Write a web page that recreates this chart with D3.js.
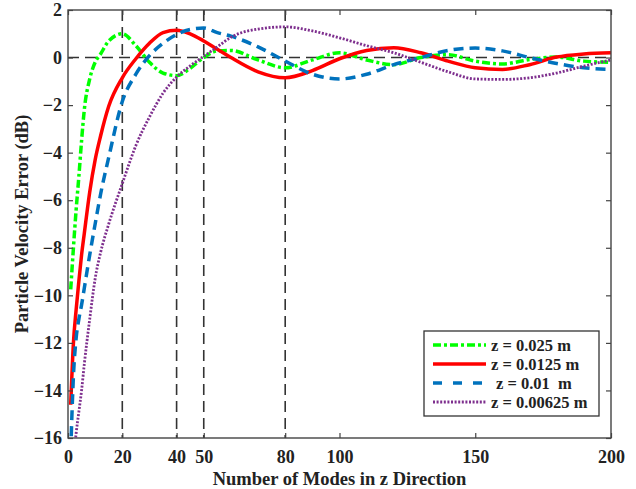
<!DOCTYPE html>
<html>
<head>
<meta charset="utf-8">
<script src="https://cdn.jsdelivr.net/npm/d3@7"></script>
<style>
  body { margin: 0; background: #fff; }
  text { font-family: "Liberation Serif", "Times New Roman", serif; font-weight: bold; fill: #222; }
</style>
</head>
<body>
<div class="canva"></div>
<script>
const modes = [1, 2, 3, 4, 5, 6, 8, 10, 12, 15, 20, 25, 30, 35, 40, 45, 50, 55, 60,
               70, 80, 90, 100, 110, 120, 130, 140, 150, 160, 170, 180, 190, 200];

const errZ025 = [-9.75, -8.0, -6.4, -5.0, -3.5, -2.2, -0.9, -0.2, 0.15, 0.7, 1.0, 0.5, -0.2, -0.65, -0.76, -0.45, 0.0, 0.28, 0.3,
                 -0.1, -0.43, -0.1, 0.2, -0.1, -0.3, 0.0, 0.12, -0.15, -0.27, -0.08, 0.02, -0.15, -0.2];
const errZ0125 = [-14.6, -12.0, -10.6, -9.4, -8.3, -7.4, -5.65, -4.3, -3.3, -2.05, -0.85, -0.05, 0.6, 1.05, 1.15, 1.0, 0.7, 0.35, 0.0,
                  -0.6, -0.85, -0.55, -0.05, 0.3, 0.41, 0.2, -0.15, -0.43, -0.5, -0.3, 0.02, 0.15, 0.2];
const errZ01 = [-16.6, -13.4, -11.8, -11.0, -10.4, -9.7, -8.3, -7.0, -5.75, -4.2, -1.85, -0.7, 0.08, 0.6, 0.97, 1.18, 1.24, 1.05, 0.9,
                0.45, -0.15, -0.7, -0.9, -0.7, -0.3, 0.0, 0.3, 0.4, 0.28, 0.0, -0.25, -0.43, -0.5];
const errZ00625 = [-19.0, -17.0, -15.8, -14.9, -14.0, -12.9, -11.0, -9.3, -8.2, -7.0, -5.3, -3.7, -2.5, -1.5, -0.82, -0.35, 0.05, 0.45, 0.85,
                   1.2, 1.29, 1.12, 0.83, 0.5, 0.2, -0.2, -0.6, -0.9, -0.92, -0.85, -0.65, -0.36, -0.1];

const seriesNames = ["z = 0.025 m", "z = 0.0125 m", "z = 0.01  m", "z = 0.00625 m"];
const xTicks = [0, 20, 40, 50, 80, 100, 150, 200];
const yTicks = [2, 0, -2, -4, -6, -8, -10, -12, -14, -16];
const markers = [20, 40, 50, 80];

const width = 636, height = 489;
const margin = {top: 10, right: 25, bottom: 51, left: 68};

const svg = d3.select(".canva").append("svg")
    .attr("width", width)
    .attr("height", height);

const x = d3.scaleLinear().domain([0, 200]).range([margin.left, width - margin.right]);
const y = d3.scaleLinear().domain([-16, 2]).range([height - margin.bottom, margin.top]);

svg.append("clipPath").attr("id", "plot")
  .append("rect")
    .attr("x", x(0)).attr("y", y(2))
    .attr("width", x(200) - x(0)).attr("height", y(-16) - y(2));

// reference dashed lines
const guides = svg.append("g").attr("stroke", "#333").attr("stroke-width", 1.6)
    .attr("stroke-dasharray", "11,6");
guides.selectAll("line.v").data(markers).enter().append("line")
    .attr("class", "v")
    .attr("x1", d => x(d)).attr("x2", d => x(d))
    .attr("y1", y(2)).attr("y2", y(-16));
guides.append("line")
    .attr("x1", x(0)).attr("x2", x(200))
    .attr("y1", y(0)).attr("y2", y(0));

const series = [
  {name: seriesNames[0], values: errZ025, color: "#00ff00", width: 3.5, dash: "8,3,3,3", legendDash: "8,3,3,3"},
  {name: seriesNames[1], values: errZ0125, color: "#ff0000", width: 3.5, dash: null, legendDash: null},
  {name: seriesNames[2], values: errZ01, color: "#0072bd", width: 3.5, dash: "10,6", legendDash: "9,11"},
  {name: seriesNames[3], values: errZ00625, color: "#7e2f8e", width: 2.8, dash: "2,1.6", legendDash: "2,1.6"}
];

const line = d3.line()
    .x((d, i) => x(modes[i]))
    .y(d => y(d))
    .curve(d3.curveMonotoneX);

svg.append("g").attr("clip-path", "url(#plot)")
  .selectAll("path")
  .data(series)
  .enter().append("path")
    .attr("fill", "none")
    .attr("stroke", d => d.color)
    .attr("stroke-width", d => d.width)
    .attr("stroke-dasharray", d => d.dash)
    .attr("d", d => line(d.values));

// axes box with inward ticks, like matlab
const axisColor = "#444";
function styleAxis(g) {
  g.select(".domain").remove();
  g.selectAll(".tick line").attr("stroke", axisColor).attr("stroke-width", 1.2);
  g.selectAll(".tick text").attr("font-size", 18);
}

svg.append("g")
    .attr("transform", `translate(0,${y(-16)})`)
    .call(d3.axisBottom(x).tickValues(xTicks).tickSize(-5).tickPadding(12).tickFormat(d3.format("d")))
    .call(styleAxis);
svg.append("g")
    .attr("transform", `translate(0,${y(2)})`)
    .call(d3.axisTop(x).tickValues(xTicks).tickSize(-5).tickFormat(""))
    .call(styleAxis);
svg.append("g")
    .attr("transform", `translate(${x(0)},0)`)
    .call(d3.axisLeft(y).tickValues(yTicks).tickSize(-5).tickPadding(6).tickFormat(d3.format("d")))
    .call(styleAxis);
svg.append("g")
    .attr("transform", `translate(${x(200)},0)`)
    .call(d3.axisRight(y).tickValues(yTicks).tickSize(-5).tickFormat(""))
    .call(styleAxis);

svg.append("rect")
    .attr("x", x(0)).attr("y", y(2))
    .attr("width", x(200) - x(0)).attr("height", y(-16) - y(2))
    .attr("fill", "none").attr("stroke", axisColor).attr("stroke-width", 1.4);

svg.selectAll(".tick text")
    .style("font-family", "'Liberation Serif', serif")
    .style("font-weight", "bold")
    .attr("fill", "#222");

// axis titles
svg.append("text")
    .attr("x", (x(0) + x(200)) / 2).attr("y", 485)
    .attr("text-anchor", "middle").attr("font-size", 18.5)
    .text("Number of Modes in z Direction");
svg.append("text")
    .attr("transform", `translate(28,${(y(2) + y(-16)) / 2}) rotate(-90)`)
    .attr("text-anchor", "middle").attr("font-size", 18.5)
    .text("Particle Velocity Error (dB)");

// legend
const legend = svg.append("g").attr("transform", "translate(424,331)");
legend.append("rect")
    .attr("width", 175).attr("height", 85)
    .attr("fill", "#fff").attr("stroke", "#333").attr("stroke-width", 1.3);
const rows = legend.selectAll("g.row").data(series).enter().append("g")
    .attr("class", "row")
    .attr("transform", (d, i) => `translate(0,${14 + i * 19})`);
rows.append("line")
    .attr("x1", 9).attr("x2", (d, i) => i === 2 ? 58 : 62)
    .attr("stroke", d => d.color)
    .attr("stroke-width", d => d.width)
    .attr("stroke-dasharray", d => d.legendDash);
rows.append("text")
    .attr("x", (d, i) => i === 2 ? 72 : 67).attr("y", 6)
    .attr("font-size", 16.5)
    .style("white-space", "pre")
    .text(d => d.name);
</script>
</body>
</html>
